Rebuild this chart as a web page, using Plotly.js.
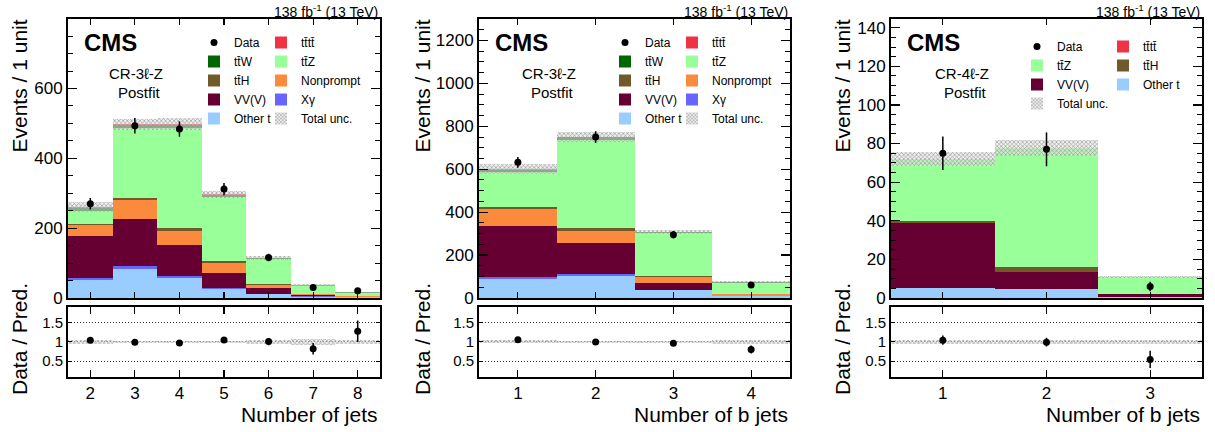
<!DOCTYPE html>
<html><head><meta charset="utf-8">
<script src="https://cdn.plot.ly/plotly-3.0.1.min.js"></script>
<style>html,body{margin:0;padding:0;background:#fff}</style>
</head><body><div id="chart" style="width:1215px;height:432px"></div>
<script>
// ---------- Panel 1: CR-3l-Z, number of jets ----------
const p1Bins = [2, 3, 4, 5, 6, 7, 8];
const p1OtherT = [50.6, 83, 57, 26, 11.5, 4, 2];
const p1Xgamma = [6.4, 7.6, 5, 2, 0.9, 0.6, 0.3];
const p1VVV = [121, 136.4, 89, 45, 16.2, 3.9, 2.0];
const p1Nonprompt = [31, 54, 40, 27, 7.4, 2.5, 1.7];
const p1ttH = [2, 5, 9, 7, 5, 1.5, 1];
const p1ttZ = [37, 201, 288, 183, 70, 21.5, 8.5];
const p1ttW = [10, 8, 8, 5, 2.5, 1.5, 0.5];
const p1tttt = [2, 2, 2, 2, 1.5, 1, 0.5];
const p1Data = [270, 493, 484, 312, 116, 30, 21];
const p1Unc = [14, 16, 17, 10, 5, 2.5, 1];

// ---------- Panel 2: CR-3l-Z, number of b jets ----------
const p2Bins = [1, 2, 3, 4];
const p2OtherT = [88.5, 101, 36, 8];
const p2Xgamma = [7.5, 12, 3, 1];
const p2VVV = [238, 143, 31, 2];
const p2Nonprompt = [82, 54, 28, 6];
const p2ttH = [8, 14, 3, 3];
const p2ttZ = [164, 411, 202, 52];
const p2ttW = [10, 15, 3, 2];
const p2tttt = [2, 2, 1, 2];
const p2Data = [632, 750, 295, 61];
const p2Unc = [23, 23, 8, 4];

// ---------- Panel 3: CR-4l-Z, number of b jets ----------
const p3Bins = [1, 2, 3];
const p3OtherT = [5.2, 4.7, 0.5];
const p3VVV = [33.9, 8.6, 1.4];
const p3ttH = [0.7, 2.6, 0.3];
const p3ttZ = [32.1, 61.7, 8.75];
const p3tttt = [0.05, 0.05, 0.05];
const p3Data = [75, 77, 6];
const p3Unc = [3.5, 4, 0.6];

const COL = {
  tttt: '#ee3344', ttW: '#006600', ttZ: '#99ff99', ttH: '#715a2a',
  Nonprompt: '#fb8a3c', VVV: '#660033', Xgamma: '#6666ff', OtherT: '#99ccff'
};

const W = 1215, H = 432;
const X = px => px / W;
const Y = py => 1 - py / H;
const FONT = 'Liberation Sans, Arial, Helvetica, sans-serif';

const traces = [];
const layout = {
  width: W, height: H,
  margin: {l: 0, r: 0, t: 0, b: 0},
  paper_bgcolor: '#fff', plot_bgcolor: 'rgba(0,0,0,0)',
  barmode: 'overlay', bargap: 0,
  font: {family: FONT, color: '#000', size: 12},
  showlegend: true,
  annotations: [], hovermode: false
};

function axisCommon() {
  return {showline: true, linewidth: 2, linecolor: '#000', mirror: 'ticks',
          ticks: 'inside', tickcolor: '#000', tickwidth: 1.2, zeroline: false,
          showgrid: false, fixedrange: true};
}

function panel(cfg) {
  const n = cfg.n;
  const xm = 'x' + (n === 1 ? '' : n), ym = 'y' + (n === 1 ? '' : n);
  const xr = 'x' + (n + 1), yr = 'y' + (n + 1);
  const xk = 'xaxis' + (n === 1 ? '' : n), yk = 'yaxis' + (n === 1 ? '' : n);
  const xrk = 'xaxis' + (n + 1), yrk = 'yaxis' + (n + 1);
  const dom = [X(cfg.left), X(cfg.right)];
  const range = [cfg.bins[0] - 0.5, cfg.bins[cfg.bins.length - 1] + 0.5];

  layout[xk] = Object.assign(axisCommon(), {domain: dom, anchor: ym, range: range,
    tickvals: cfg.bins, showticklabels: false, ticklen: 6});
  layout[yk] = Object.assign(axisCommon(), {domain: [Y(298), Y(19)], anchor: xm,
    range: [0, cfg.ymax], dtick: cfg.dtick, ticklen: 9,
    minor: {ticks: 'inside', dtick: cfg.minor, ticklen: 5, tickcolor: '#000', tickwidth: 1},
    tickfont: {size: 17}});
  layout[xrk] = Object.assign(axisCommon(), {domain: dom, anchor: yr, range: range,
    tickvals: cfg.bins, ticktext: cfg.bins.map(String), ticklen: 7, tickfont: {size: 17}});
  layout[yrk] = Object.assign(axisCommon(), {domain: [Y(376.7), Y(307)], anchor: xr,
    range: [0.1, 1.9], tickvals: [0.5, 1, 1.5], ticktext: ['0.5', '1', '1.5'], ticklen: 4,
    showgrid: true, gridcolor: '#333', gridwidth: 1, griddash: '1px,2px', tickfont: {size: 15}});

  let base = cfg.bins.map(() => 0);
  cfg.comps.forEach(c => {
    traces.push({type: 'bar', x: cfg.bins, y: c.vals, base: base.slice(), width: 1,
      marker: {color: c.color, line: {width: 0}}, name: c.name,
      legend: c.leg, legendrank: c.rank, xaxis: xm, yaxis: ym});
    base = base.map((b, i) => b + c.vals[i]);
  });
  const total = base;
  const pat = {shape: 'x', size: 3, solidity: 0.35, fgcolor: '#939393', bgcolor: 'rgba(226,226,226,0.6)'};
  traces.push({type: 'bar', x: cfg.bins, y: cfg.unc.map(u => 2 * u),
    base: total.map((t, i) => t - cfg.unc[i]), width: 1,
    marker: {color: 'rgba(210,210,210,0.5)', line: {width: 0}, pattern: pat},
    name: 'Total unc.', legend: cfg.uncLeg.leg, legendrank: cfg.uncLeg.rank, xaxis: xm, yaxis: ym});
  traces.push({type: 'scatter', mode: 'markers', x: cfg.bins, y: cfg.data,
    marker: {color: '#000', size: 7},
    error_y: {type: 'data', array: cfg.data.map(d => Math.sqrt(d)), color: '#000', thickness: 1.5, width: 0},
    name: 'Data', legend: cfg.dataLeg, legendrank: 1, xaxis: xm, yaxis: ym});

  traces.push({type: 'bar', x: cfg.bins, y: cfg.unc.map((u, i) => 2 * u / total[i]),
    base: cfg.unc.map((u, i) => 1 - u / total[i]), width: 1,
    marker: {color: 'rgba(210,210,210,0.5)', line: {width: 0}, pattern: pat},
    showlegend: false, xaxis: xr, yaxis: yr});
  traces.push({type: 'scatter', mode: 'markers', x: cfg.bins, y: cfg.data.map((d, i) => d / total[i]),
    marker: {color: '#000', size: 7},
    error_y: {type: 'data', array: cfg.data.map((d, i) => Math.sqrt(d) / total[i]), color: '#000', thickness: 1.5, width: 0},
    showlegend: false, xaxis: xr, yaxis: yr});

  const legBase = {xanchor: 'left', yanchor: 'top', bgcolor: 'rgba(0,0,0,0)', borderwidth: 0,
    font: {size: 12, family: FONT}, traceorder: 'normal', itemwidth: 30, tracegroupgap: 0,
    itemclick: false, itemdoubleclick: false};
  layout[cfg.legL] = Object.assign({}, legBase, {x: X(cfg.legLx), y: Y(cfg.legY)});
  layout[cfg.legR] = Object.assign({}, legBase, {x: X(cfg.legRx), y: Y(cfg.legY)});

  const A = layout.annotations;
  A.push({xref: 'paper', yref: 'paper', x: X(cfg.right), y: Y(11), xanchor: 'right', yanchor: 'middle',
    text: '138 fb<sup>-1</sup> (13 TeV)', showarrow: false, font: {size: 14}});
  A.push({xref: 'paper', yref: 'paper', x: X(cfg.cmsX), y: Y(43), xanchor: 'left', yanchor: 'middle',
    text: '<b>CMS</b>', showarrow: false, font: {size: 24}});
  A.push({xref: 'paper', yref: 'paper', x: X(cfg.regX), y: Y(73), xanchor: 'center', yanchor: 'middle',
    text: cfg.region, showarrow: false, font: {size: 15}});
  A.push({xref: 'paper', yref: 'paper', x: X(cfg.regX + 3), y: Y(92), xanchor: 'center', yanchor: 'middle',
    text: 'Postfit', showarrow: false, font: {size: 15}});
  A.push({xref: 'paper', yref: 'paper', x: X(cfg.ytX), y: Y(18), xanchor: 'center', yanchor: 'top',
    text: 'Events / 1 unit', textangle: -90, showarrow: false, font: {size: 21}});
  A.push({xref: 'paper', yref: 'paper', x: X(cfg.ytX), y: Y(397), xanchor: 'center', yanchor: 'bottom',
    text: 'Data / Pred.', textangle: -90, showarrow: false, font: {size: 21}});
  A.push({xref: 'paper', yref: 'paper', x: X(cfg.right), y: Y(414), xanchor: 'right', yanchor: 'middle',
    text: cfg.xtitle, showarrow: false, font: {size: 21}});
}

panel({n: 1, left: 68, right: 380, bins: p1Bins, ymax: 799, dtick: 200, minor: 50,
  comps: [
    {name: 'Other t', vals: p1OtherT, color: COL.OtherT, leg: 'legend', rank: 5},
    {name: 'Xγ', vals: p1Xgamma, color: COL.Xgamma, leg: 'legend2', rank: 4},
    {name: 'VV(V)', vals: p1VVV, color: COL.VVV, leg: 'legend', rank: 4},
    {name: 'Nonprompt', vals: p1Nonprompt, color: COL.Nonprompt, leg: 'legend2', rank: 3},
    {name: 'tt̄H', vals: p1ttH, color: COL.ttH, leg: 'legend', rank: 3},
    {name: 'tt̄Z', vals: p1ttZ, color: COL.ttZ, leg: 'legend2', rank: 2},
    {name: 'tt̄W', vals: p1ttW, color: COL.ttW, leg: 'legend', rank: 2},
    {name: 'tt̄tt̄', vals: p1tttt, color: COL.tttt, leg: 'legend2', rank: 1}
  ],
  unc: p1Unc, data: p1Data, dataLeg: 'legend', uncLeg: {leg: 'legend2', rank: 5},
  legL: 'legend', legR: 'legend2', legLx: 194, legRx: 261, legY: 28,
  cmsX: 82, regX: 136, ytX: 19, region: 'CR-3ℓ-Z', xtitle: 'Number of jets'});

panel({n: 3, left: 479, right: 790, bins: p2Bins, ymax: 1300, dtick: 200, minor: 50,
  comps: [
    {name: 'Other t', vals: p2OtherT, color: COL.OtherT, leg: 'legend3', rank: 5},
    {name: 'Xγ', vals: p2Xgamma, color: COL.Xgamma, leg: 'legend4', rank: 4},
    {name: 'VV(V)', vals: p2VVV, color: COL.VVV, leg: 'legend3', rank: 4},
    {name: 'Nonprompt', vals: p2Nonprompt, color: COL.Nonprompt, leg: 'legend4', rank: 3},
    {name: 'tt̄H', vals: p2ttH, color: COL.ttH, leg: 'legend3', rank: 3},
    {name: 'tt̄Z', vals: p2ttZ, color: COL.ttZ, leg: 'legend4', rank: 2},
    {name: 'tt̄W', vals: p2ttW, color: COL.ttW, leg: 'legend3', rank: 2},
    {name: 'tt̄tt̄', vals: p2tttt, color: COL.tttt, leg: 'legend4', rank: 1}
  ],
  unc: p2Unc, data: p2Data, dataLeg: 'legend3', uncLeg: {leg: 'legend4', rank: 5},
  legL: 'legend3', legR: 'legend4', legLx: 605, legRx: 672, legY: 28,
  cmsX: 493, regX: 549, ytX: 422, region: 'CR-3ℓ-Z', xtitle: 'Number of b jets'});

panel({n: 5, left: 891, right: 1202, bins: p3Bins, ymax: 144.5, dtick: 20, minor: 5,
  comps: [
    {name: 'Other t', vals: p3OtherT, color: COL.OtherT, leg: 'legend6', rank: 3},
    {name: 'VV(V)', vals: p3VVV, color: COL.VVV, leg: 'legend5', rank: 3},
    {name: 'tt̄H', vals: p3ttH, color: COL.ttH, leg: 'legend6', rank: 2},
    {name: 'tt̄Z', vals: p3ttZ, color: COL.ttZ, leg: 'legend5', rank: 2},
    {name: 'tt̄tt̄', vals: p3tttt, color: COL.tttt, leg: 'legend6', rank: 1}
  ],
  unc: p3Unc, data: p3Data, dataLeg: 'legend5', uncLeg: {leg: 'legend5', rank: 4},
  legL: 'legend5', legR: 'legend6', legLx: 1017, legRx: 1103, legY: 32,
  cmsX: 905, regX: 962, ytX: 842, region: 'CR-4ℓ-Z', xtitle: 'Number of b jets'});

Plotly.newPlot('chart', traces, layout, {displayModeBar: false, staticPlot: true});
</script>
</body></html>
